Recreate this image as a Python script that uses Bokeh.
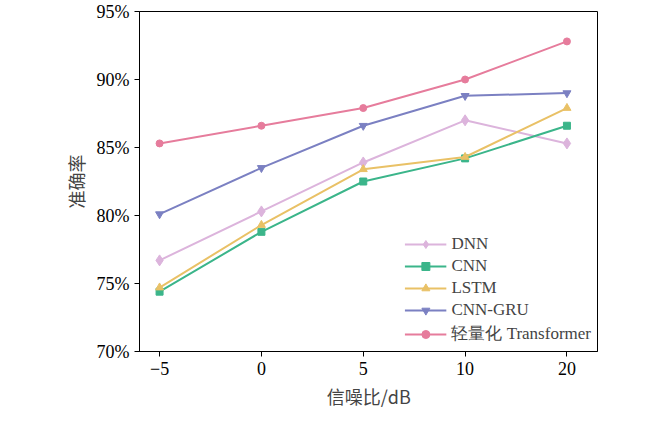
from bokeh.plotting import figure
from bokeh.embed import file_html
from bokeh.resources import INLINE
from bokeh.models import Legend, LegendItem, FixedTicker

snr_labels = ["−5", "0", "5", "10", "20"]
dnn = [76.7, 80.3, 83.9, 87.0, 85.3]
cnn = [74.4, 78.8, 82.5, 84.2, 86.6]
lstm = [74.7, 79.3, 83.4, 84.3, 87.9]
cnn_gru = [80.1, 83.5, 86.6, 88.8, 89.0]
transformer = [85.3, 86.6, 87.9, 90.0, 92.8]

series = [
    ("DNN", dnn, "#dcb4dc", "diamond", 11),
    ("CNN", cnn, "#3bb58a", "square", 7),
    ("LSTM", lstm, "#e9c166", "triangle", 8),
    ("CNN-GRU", cnn_gru, "#7b80c2", "inverted_triangle", 8),
    ("轻量化 Transformer", transformer, "#e67c9c", "circle", 7),
]
xs = list(range(len(snr_labels)))

p = figure(width=634, height=411, output_backend="svg", toolbar_location=None,
           x_range=(-0.197, 4.30), y_range=(70, 95),
           min_border_left=139, min_border_right=37, min_border_top=11, min_border_bottom=47)
p.grid.visible = False
p.outline_line_color = "black"
p.outline_line_width = 1
p.background_fill_color = "white"

items = []
for name, vals, col, mk, sz in series:
    r1 = p.line(xs, vals, line_color=col, line_width=2)
    r2 = p.scatter(xs, vals, marker=mk, size=sz, fill_color=col, line_color=col)
    items.append(LegendItem(label=name, renderers=[r1, r2]))

leg = Legend(items=items, location="bottom_right", border_line_alpha=0,
             background_fill_alpha=0, label_text_font="Liberation Serif",
             label_text_font_size="17px", glyph_width=42, spacing=2,
             padding=2, margin=4, label_height=20, glyph_height=20)
p.add_layout(leg)

p.xaxis.ticker = FixedTicker(ticks=xs)
p.xaxis.major_label_overrides = {i: l for i, l in enumerate(snr_labels)}
p.yaxis.ticker = FixedTicker(ticks=[70, 75, 80, 85, 90, 95])
p.yaxis.major_label_overrides = {v: f"{v}%" for v in [70, 75, 80, 85, 90, 95]}
for ax in (p.xaxis[0], p.yaxis[0]):
    ax.minor_tick_line_color = None
    ax.major_tick_out = 5
    ax.major_tick_in = 0
    ax.major_label_text_font = "Liberation Serif"
    ax.major_label_text_font_size = "18px"
    ax.major_label_text_color = "black"
    ax.axis_label_text_font = "Noto Sans CJK SC"
    ax.axis_label_text_font_size = "18px"
    ax.axis_label_text_font_style = "normal"
    ax.axis_line_color = "black"
p.xaxis.axis_label = "信噪比/dB"
p.yaxis.axis_label = "准确率"

open("out.html", "w").write(file_html(p, INLINE))
